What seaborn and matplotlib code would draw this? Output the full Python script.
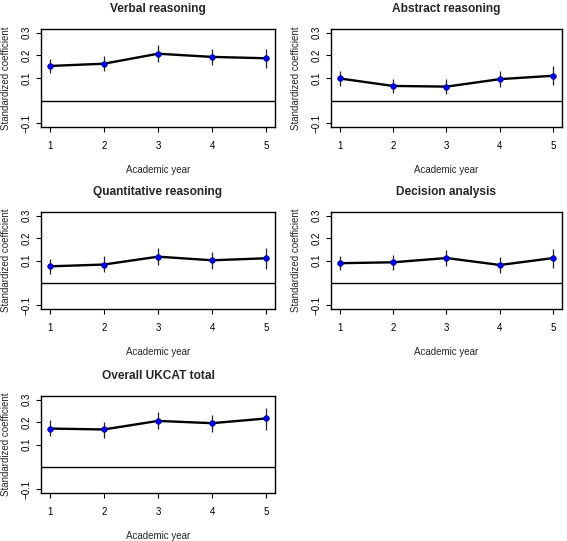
import numpy as np
import pandas as pd
import matplotlib
matplotlib.use("Agg")
import matplotlib.pyplot as plt
import seaborn as sns

sns.set_style("ticks")
plt.rcParams["font.family"] = ["Liberation Sans", "DejaVu Sans"]

# ------------------------------------------------------------
# data
# ------------------------------------------------------------
years = [1, 2, 3, 4, 5]

titles = ["Verbal reasoning", "Abstract reasoning", "Quantitative reasoning",
          "Decision analysis", "Overall UKCAT total"]

verbal_coef = [0.153, 0.163, 0.207, 0.193, 0.187]
verbal_low = [0.121, 0.129, 0.170, 0.156, 0.144]
verbal_high = [0.185, 0.196, 0.244, 0.230, 0.230]

abstract_coef = [0.098, 0.065, 0.062, 0.095, 0.110]
abstract_low = [0.065, 0.033, 0.028, 0.062, 0.070]
abstract_high = [0.129, 0.096, 0.096, 0.129, 0.151]

quant_coef = [0.074, 0.082, 0.117, 0.101, 0.110]
quant_low = [0.040, 0.049, 0.079, 0.062, 0.064]
quant_high = [0.108, 0.119, 0.157, 0.138, 0.156]

decision_coef = [0.088, 0.092, 0.111, 0.080, 0.111]
decision_low = [0.056, 0.056, 0.074, 0.045, 0.068]
decision_high = [0.119, 0.123, 0.146, 0.116, 0.152]

total_coef = [0.171, 0.167, 0.205, 0.195, 0.216]
total_low = [0.136, 0.130, 0.167, 0.156, 0.165]
total_high = [0.207, 0.202, 0.244, 0.233, 0.263]

coefs = [verbal_coef, abstract_coef, quant_coef, decision_coef, total_coef]
lows = [verbal_low, abstract_low, quant_low, decision_low, total_low]
highs = [verbal_high, abstract_high, quant_high, decision_high, total_high]

y_ticks = [-0.1, 0.1, 0.2, 0.3]
y_tick_labels = ["\u22120.1", "0.1", "0.2", "0.3"]

# ------------------------------------------------------------
# layout (pixel boxes of each panel: left, right, top, bottom)
# ------------------------------------------------------------
W, H = 567, 541
boxes = [(41, 275, 29, 127), (331, 562, 29, 127),
         (41, 275, 212, 309), (331, 562, 212, 309),
         (41, 275, 396, 493)]

fig = plt.figure(figsize=(W / 100, H / 100), dpi=100)

for title, coef, lo, hi, (l, r, t, b) in zip(titles, coefs, lows, highs, boxes):
    ax = fig.add_axes([l / W, (H - b) / H, (r - l) / W, (b - t) / H])
    df = pd.DataFrame({"year": years, "coef": coef, "low": lo, "high": hi})

    ax.axhline(0, color="black", lw=1)
    sns.lineplot(data=df, x="year", y="coef", color="black", lw=1.7, ax=ax,
                 zorder=2)
    ax.vlines(df["year"], df["low"], df["high"], color="#222222", lw=0.9,
              zorder=3)
    sns.scatterplot(data=df, x="year", y="coef", color="#0000ff", s=17,
                    edgecolor="#00007a", linewidth=0.4, ax=ax, zorder=4)

    ax.set_xlim(0.84, 5.16)
    ax.set_ylim(-0.116, 0.316)
    ax.set_xticks(years)
    ax.set_yticks(y_ticks)
    ax.set_yticklabels(y_tick_labels, rotation=90, va="center")

    for s in ax.spines.values():
        s.set_linewidth(1)
        s.set_color("black")
    ax.tick_params(axis="both", length=3.6, width=0.8, labelsize=7,
                   direction="out", colors="black")
    ax.tick_params(axis="x", pad=6.5)
    ax.tick_params(axis="y", pad=3.5)

    ax.set_title(title, fontsize=8.6, fontweight="bold", pad=12.5)
    ax.set_xlabel("Academic year", fontsize=7, labelpad=10)
    ax.set_ylabel("Standardized coefficient", fontsize=7, labelpad=7)

fig.savefig("out.png", dpi=100)
plt.close(fig)
